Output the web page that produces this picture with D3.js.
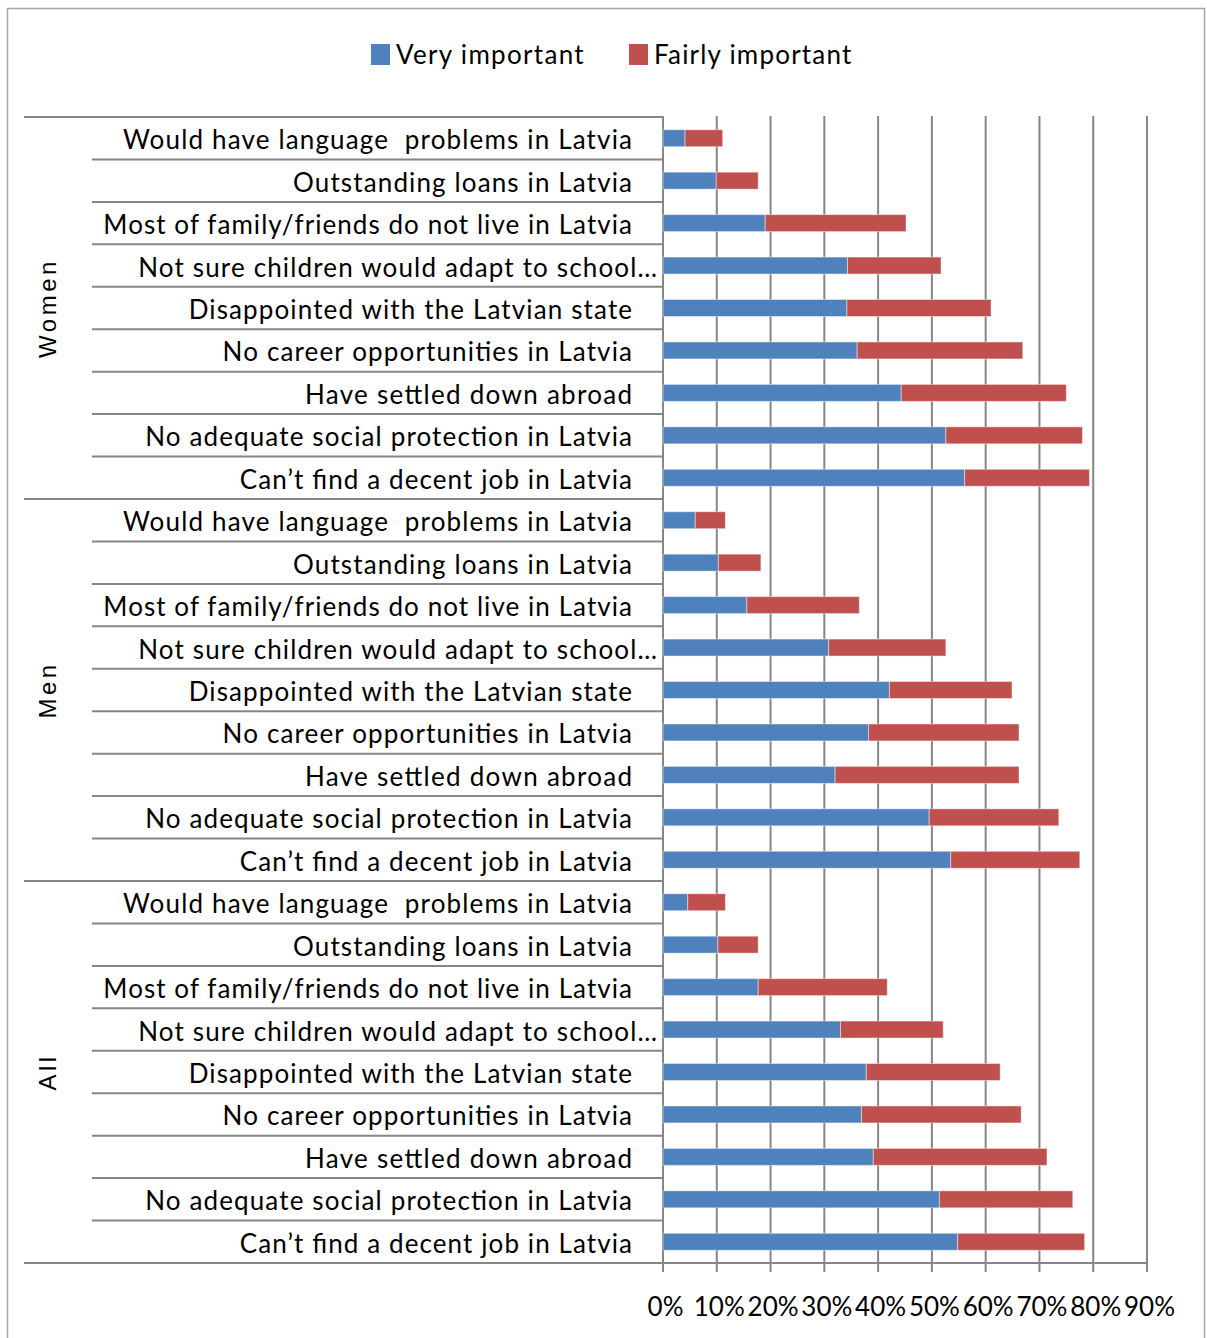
<!DOCTYPE html>
<html>
<head>
<meta charset="utf-8">
<script src="https://cdn.jsdelivr.net/npm/d3@7"></script>
<style>
  body { margin: 0; background: #fff; }
  svg { display: block; }
</style>
</head>
<body>
<svg id="chart" width="1207" height="1338"></svg>
<script>
// Reasons for not returning to Latvia, share of respondents (%)
const groups = ["Women", "Men", "All"];
const categories = [
  "Would have language  problems in Latvia",
  "Outstanding loans in Latvia",
  "Most of family/friends do not live in Latvia",
  "Not sure children would adapt to school…",
  "Disappointed with the Latvian state",
  "No career opportunities in Latvia",
  "Have settled down abroad",
  "No adequate social protection in Latvia",
  "Can’t find a decent job in Latvia"
];
const seriesNames = ["Very important", "Fairly important"];

const veryWomen   = [4.1, 9.9, 19.0, 34.3, 34.2, 36.1, 44.3, 52.6, 56.1];
const fairlyWomen = [7.0, 7.8, 26.2, 17.4, 26.8, 30.8, 30.7, 25.4, 23.2];
const veryMen     = [6.0, 10.3, 15.6, 30.8, 42.1, 38.2, 32.0, 49.5, 53.5];
const fairlyMen   = [5.6, 7.9, 20.9, 21.8, 22.8, 28.0, 34.2, 24.1, 24.0];
const veryAll     = [4.6, 10.2, 17.7, 33.0, 37.8, 36.9, 39.1, 51.4, 54.8];
const fairlyAll   = [7.0, 7.5, 24.0, 19.1, 24.9, 29.7, 32.3, 24.8, 23.6];

const tickValues = [0, 10, 20, 30, 40, 50, 60, 70, 80, 90];

const colors = ["#4F81BD", "#C0504D"];
const gridColor = "#868686";
const labelFont = "Lato, 'Open Sans', sans-serif";

const veryByGroup = { Women: veryWomen, Men: veryMen, All: veryAll };
const fairlyByGroup = { Women: fairlyWomen, Men: fairlyMen, All: fairlyAll };

const rows = groups.flatMap(g => categories.map((c, i) => ({
  key: g + "|" + i, group: g, label: c,
  very: veryByGroup[g][i], fairly: fairlyByGroup[g][i]
})));

// widen a text run by spreading its letters
function spread(sel, factor) {
  sel.each(function () {
    const len = this.getComputedTextLength();
    d3.select(this).attr("textLength", len * factor).attr("lengthAdjust", "spacing");
  });
}

const svg = d3.select("#chart");

// outer frame
svg.append("rect")
  .attr("x", 7.5).attr("y", 8.5).attr("width", 1197).attr("height", 1345)
  .attr("fill", "none").attr("stroke", "#a6a6a6").attr("stroke-width", 1.5);

const plotTop = 117, plotBottom = 1263, axisX = 663;
const x = d3.scaleLinear().domain([0, 90]).range([axisX, 1147]);
const y = d3.scaleBand().domain(rows.map(r => r.key))
  .range([plotTop, plotBottom]).paddingInner(0.6).paddingOuter(0.3);
const step = y.step();

// vertical gridlines (extend below the axis as tick marks)
svg.append("g").selectAll("line").data(tickValues.slice(1)).join("line")
  .attr("x1", d => x(d)).attr("x2", d => x(d))
  .attr("y1", plotTop - 1).attr("y2", plotBottom + 9)
  .attr("stroke", gridColor).attr("stroke-width", 2);

// row separators in the label area
const sep = svg.append("g");
d3.range(0, rows.length + 1).forEach(i => {
  const yy = plotTop + i * step;
  const isGroup = i % categories.length === 0;
  sep.append("line")
    .attr("x1", isGroup ? 24 : 92).attr("x2", (i === rows.length) ? x(90) : axisX)
    .attr("y1", yy).attr("y2", yy)
    .attr("stroke", gridColor).attr("stroke-width", 2);
});

// category axis line
svg.append("line")
  .attr("x1", axisX).attr("x2", axisX).attr("y1", plotTop - 1).attr("y2", plotBottom + 9)
  .attr("stroke", gridColor).attr("stroke-width", 2);

// stacked bars
const bars = svg.append("g");
bars.selectAll("rect.very").data(rows).join("rect")
  .attr("class", "very")
  .attr("x", x(0)).attr("y", d => y(d.key))
  .attr("width", d => x(d.very) - x(0)).attr("height", y.bandwidth())
  .attr("fill", colors[0]).attr("stroke", "#ffffff").attr("stroke-opacity", 0.45).attr("stroke-width", 1);
bars.selectAll("rect.fairly").data(rows).join("rect")
  .attr("class", "fairly")
  .attr("x", d => x(d.very)).attr("y", d => y(d.key))
  .attr("width", d => x(d.very + d.fairly) - x(d.very)).attr("height", y.bandwidth())
  .attr("fill", colors[1]).attr("stroke", "#ffffff").attr("stroke-opacity", 0.45).attr("stroke-width", 1);

// category labels
svg.append("g").selectAll("text").data(rows).join("text")
  .attr("x", d => d.label.endsWith("…") ? 657 : 632)
  .attr("y", d => y(d.key) + y.bandwidth() / 2 + 11)
  .attr("text-anchor", "end")
  .attr("font-family", labelFont).attr("font-size", 26).attr("fill", "#000")
  .style("white-space", "pre")
  .text(d => d.label)
  .call(spread, 1.095);

// group labels
svg.append("g").selectAll("text").data(groups).join("text")
  .attr("transform", (g, gi) => {
    const cy = plotTop + (gi + 0.5) * categories.length * step;
    return `translate(47,${cy}) rotate(-90)`;
  })
  .attr("text-anchor", "middle").attr("dominant-baseline", "central")
  .attr("font-family", "'Liberation Sans', Arial, sans-serif")
  .attr("font-size", 24).attr("letter-spacing", 3.5).attr("fill", "#000")
  .text(g => g);

// value axis labels
const xAxis = d3.axisBottom(x).tickValues(tickValues)
  .tickFormat(d => d + "%").tickSize(0).tickPadding(0);
const ax = svg.append("g").attr("transform", `translate(0,${plotBottom})`).call(xAxis);
ax.select(".domain").remove();
ax.selectAll("text")
  .attr("y", 53).attr("dy", 0).attr("dx", 2)
  .attr("font-family", labelFont).attr("font-size", 26).attr("fill", "#000");

// legend
const legend = svg.append("g");
const legendX = [371, 629];
seriesNames.forEach((name, i) => {
  legend.append("rect").attr("x", legendX[i]).attr("y", 44)
    .attr("width", 19).attr("height", 21).attr("fill", colors[i]);
  legend.append("text").attr("x", legendX[i] + 25).attr("y", 64)
    .attr("font-family", labelFont).attr("font-size", 26).attr("fill", "#000")
    .text(name)
    .call(spread, 1.1);
});
</script>
</body>
</html>
